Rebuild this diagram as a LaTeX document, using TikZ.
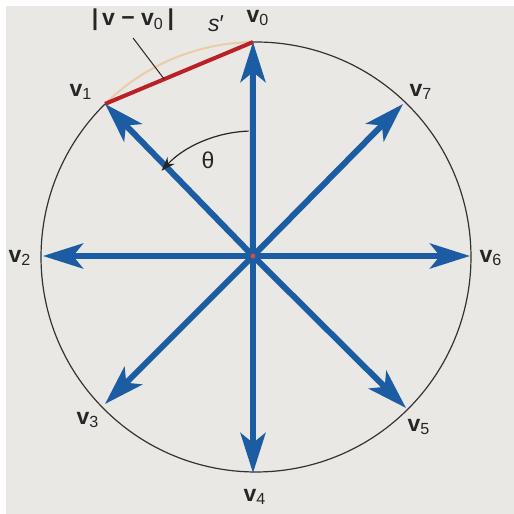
\documentclass[tikz,border=0pt]{standalone}
\usepackage{fontspec}
\setmainfont{Liberation Sans}
\usepackage{tikz}
\usetikzlibrary{arrows.meta,calc}
\definecolor{VecBlue}{RGB}{28,92,162}
\definecolor{ChordRed}{RGB}{186,32,36}
\definecolor{ArcTan}{RGB}{236,204,166}
\definecolor{PageGray}{RGB}{233,232,228}
\definecolor{DotRed}{RGB}{205,80,70}
\newcommand{\velo}[1]{\textbf{v}\textsubscript{#1}}

\begin{document}
\begin{tikzpicture}[
  x=0.5pt,y=0.5pt,
  vec/.style={line width=3pt,draw=VecBlue,-{Stealth[length=20pt,width=12.5pt,inset=5pt]}},
  rim/.style={draw=black!80,line width=0.6pt},
  sarc/.style={draw=ArcTan,line width=1pt},
  chord/.style={draw=ChordRed,line width=2pt},
  lead/.style={draw=black!85,line width=0.5pt},
  turn/.style={draw=black!85,line width=0.6pt,-{Stealth[length=7pt,width=5pt]}},
  lbl/.style={font=\fontsize{11.5}{13}\selectfont,text=black!85}
]
\useasboundingbox (-253,-258) rectangle (261,256);
\fill[PageGray] (-247,-258) rectangle (261,250);
% centre and tips on the rim
\coordinate (c) at (3,-1);
\coordinate (o) at (0,0);
\coordinate (t0) at ($(c)+(90.8:215)$);
\coordinate (t1) at ($(c)+(134.6:215)$);
\coordinate (t2) at (-210,0);
\coordinate (t3) at (-148,-148);
\coordinate (t4) at (0,-217);
\coordinate (t5) at (153,-152);
\coordinate (t6) at (217,0);
\coordinate (t7) at (150,152);
\coordinate (m) at ($(t1)!0.4!(t0)$);
\draw[rim] (t1) arc[start angle=134.6,end angle=450.8,radius=215];
\draw[sarc] (t0) arc[start angle=90.8,end angle=134.6,radius=215];
\draw[chord] (t1) -- (t0);
% velocity vectors
\draw[vec] (o) -- (t0);
\draw[vec] (o) -- (t1);
\draw[vec] (o) -- (t2);
\draw[vec] (o) -- (t3);
\draw[vec] (o) -- (t4);
\draw[vec] (o) -- (t5);
\draw[vec] (o) -- (t6);
\draw[vec] (o) -- (t7);
\fill[DotRed] (o) circle[radius=2.5];
\draw[turn] (o) ++(92:125) arc[start angle=92,end angle=137,radius=125];
% labels
\node[lbl] (l0) at (5,238) {\velo{0}};
\node[lbl] (l1) at (-172,164) {\velo{1}};
\node[lbl] (l2) at (-233,-2) {\velo{2}};
\node[lbl] (l3) at (-165,-164) {\velo{3}};
\node[lbl] (l4) at (2,-241) {\velo{4}};
\node[lbl] (l5) at (166,-171) {\velo{5}};
\node[lbl] (l6) at (238,-2) {\velo{6}};
\node[lbl] (l7) at (168,164) {\velo{7}};
\node[lbl] (th) at (-45,96) {θ};
\node[lbl] (s) at (-37,232) {\textit{s}′};
\node[lbl] (dv) at (-120,236) {\textbf{|\,v − v}\textsubscript{0}\,\textbf{|}};
\draw[lead] (dv.south) -- (m);
\end{tikzpicture}
\end{document}
